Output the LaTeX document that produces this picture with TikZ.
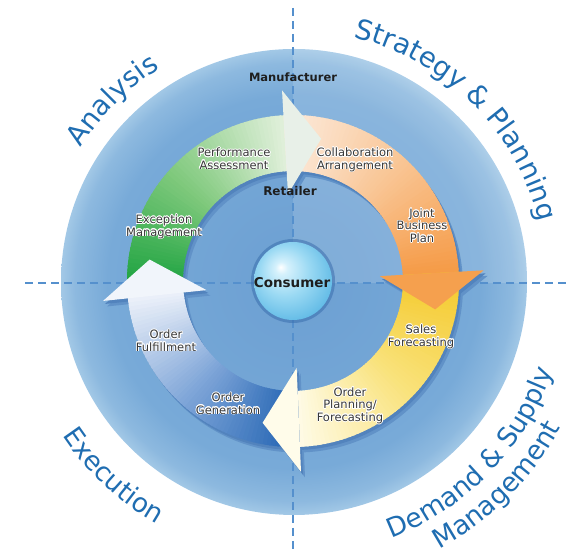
\documentclass[tikz,border=0pt]{standalone}
\usepackage{fontspec}
\setmainfont{DejaVu Sans}
\newfontfamily\dvs{DejaVu Sans}
\usepackage{contour}
\contourlength{0.7pt}
\usetikzlibrary{decorations.text}

\definecolor{qblue}{HTML}{1F6DB1}
\definecolor{dashblue}{HTML}{5590CD}
\definecolor{diskA}{HTML}{6C9FD2}
\definecolor{diskB}{HTML}{78AAD8}
\definecolor{diskC}{HTML}{A2C8E6}
\definecolor{shadowA}{HTML}{5283BD}
\definecolor{shadowB}{HTML}{6192C8}
\definecolor{gr1}{HTML}{16A03C}
\definecolor{gr2}{HTML}{7FC97C}
\definecolor{gr3}{HTML}{E3F1DD}
\definecolor{or1}{HTML}{FCEBDD}
\definecolor{or2}{HTML}{F9C594}
\definecolor{or3}{HTML}{F59A45}
\definecolor{ye1}{HTML}{F4C92C}
\definecolor{ye2}{HTML}{F9E27A}
\definecolor{ye3}{HTML}{FFFBE8}
\definecolor{bl1}{HTML}{2263B2}
\definecolor{bl2}{HTML}{7EA5D8}
\definecolor{bl3}{HTML}{EEF2FA}
\definecolor{grH}{HTML}{E8F0E8}
\definecolor{orH}{HTML}{F5A04E}
\definecolor{yeH}{HTML}{FFFCEA}
\definecolor{blH}{HTML}{F1F5FB}
\definecolor{labc}{HTML}{383838}
\definecolor{blabc}{HTML}{1E1E1E}
\definecolor{cyA}{HTML}{D5F1FC}
\definecolor{cyB}{HTML}{9AD9F3}
\definecolor{cyC}{HTML}{62BBE6}
\definecolor{cyEdge}{HTML}{3A6FAE}

\pgfdeclareradialshading{diskshade}{\pgfpoint{0bp}{0bp}}{color(0bp)=(diskA); color(20bp)=(diskB); color(23.5bp)=(diskC!50!diskB); color(25bp)=(diskC); color(50bp)=(diskC)}
\pgfdeclareradialshading{consh}{\pgfpoint{-8bp}{9bp}}{color(0bp)=(white); color(4bp)=(cyA); color(16bp)=(cyB); color(30bp)=(cyC); color(50bp)=(cyC)}

\newcommand\qfontT{\dvs\fontsize{27.5}{27.5}\selectfont}
\newcommand\qfontB{\dvs\fontsize{26.5}{26.5}\selectfont}
\newcommand\hl[1]{\contour{white}{#1}}
\def\Ro{166}
\def\Ri{110}

\newcommand\gradband[5]{%
  \foreach \k in {0,...,59}{%
    \pgfmathsetmacro\aa{#1+(#2-#1)*\k/60}%
    \pgfmathsetmacro\ab{#1+(#2-#1)*(\k+1.5)/60}%
    \ifnum\k<30
      \pgfmathtruncatemacro\pp{\k*100/30}%
      \colorlet{bandc}{#4!\pp!#3}%
    \else
      \pgfmathtruncatemacro\pp{(\k-30)*100/30}%
      \colorlet{bandc}{#5!\pp!#4}%
    \fi
    \fill[bandc] (\aa:\Ri) arc[start angle=\aa,end angle=\ab,radius=\Ri] -- (\ab:\Ro) arc[start angle=\ab,end angle=\aa,radius=\Ro] -- cycle;
  }}
\newcommand\headfill[2]{\fill[#2] (#1:87) -- ({#1-14.5}:145) -- (#1:191) -- cycle;}

\begin{document}
\begin{tikzpicture}[x=1pt,y=1pt,
  lab/.style={font=\dvs\fontsize{11.5}{12.5}\selectfont, text=labc, align=center, inner sep=0pt},
  blab/.style={font=\dvs\bfseries\fontsize{11.5}{12}\selectfont, text=blabc, inner sep=0pt},
  dashln/.style={draw=dashblue, line width=2.2pt, dash pattern=on 8pt off 5pt}]
\useasboundingbox (0,0) rectangle (566,553);
\coordinate (O) at (294,271);
\coordinate (C) at (293,272);
% background disk
\shade[shading=diskshade] (O) circle[radius=233];
\begin{scope}
  \clip (O) circle[radius=233];
  \fill[white, opacity=0.13] (293,270) rectangle ++(250,260);
\end{scope}
% dashed axes
\coordinate (hL) at (25,270);
\coordinate (hR) at (566,270);
\coordinate (vT) at (293,545);
\coordinate (vB) at (293,0);
\draw[dashln] (hL) -- (hR);
\draw[dashln] (vT) -- (vB);
% ring of arrows
\begin{scope}[shift={(C)}]
  \begin{scope}[shift={(4,-5.5)}]
    \fill[shadowB, even odd rule] (0,0) circle[radius=\Ro] (0,0) circle[radius=\Ri];
    \headfill{93.3}{shadowB}\headfill{3.2}{shadowB}\headfill{-87.6}{shadowB}\headfill{186}{shadowB}
  \end{scope}
  \begin{scope}[shift={(2,-3)}]
    \fill[shadowA, even odd rule] (0,0) circle[radius=\Ro] (0,0) circle[radius=\Ri];
    \headfill{93.3}{shadowA}\headfill{3.2}{shadowA}\headfill{-87.6}{shadowA}\headfill{186}{shadowA}
  \end{scope}
  \gradband{186}{93.3}{gr1}{gr2}{gr3}
  \gradband{93.3}{3.2}{or1}{or2}{or3}
  \gradband{3.2}{-87.6}{ye1}{ye2}{ye3}
  \gradband{-87.6}{-174}{bl1}{bl2}{bl3}
  \headfill{93.3}{grH}
  \headfill{3.2}{orH}
  \headfill{-87.6}{yeH}
  \headfill{186}{blH}
\end{scope}
% step labels
\node[lab] (perf) at (234,394) {\hl{Performance}\\\hl{Assessment}};
\node[lab] (collab) at (355,393) {\hl{Collaboration}\\\hl{Arrangement}};
\node[lab] (joint) at (422,327) {\hl{Joint}\\\hl{Business}\\\hl{Plan}};
\node[lab] (except) at (164,326) {\hl{Exception}\\\hl{Management}};
\node[lab] (sales) at (421,216) {\hl{Sales}\\\hl{Forecasting}};
\node[lab] (oplan) at (350,147) {\hl{Order}\\\hl{Planning/}\\\hl{Forecasting}};
\node[lab] (ofulf) at (166,212) {\hl{Order}\\\hl{Fulfillment}};
\node[lab] (ogen) at (228,149) {\hl{Order}\\\hl{Generation}};
\node[blab] (manuf) at (293,476) {Manufacturer};
\node[blab, font=\dvs\bfseries\fontsize{12}{12}\selectfont] (retail) at (290,362) {Retailer};
% consumer
\fill[cyEdge, opacity=0.55] (C) circle[radius=42];
\shade[shading=consh] (C) circle[radius=39];
\node[blab, font=\dvs\bfseries\fontsize{13.5}{13.5}\selectfont] (consumer) at (292,270) {Consumer};
% quadrant titles
\path[decorate, decoration={text along path, text align=center, text color=qblue, text={|\qfontT|Analysis}}]
  (O) ++(175:252) arc[start angle=175, end angle=95, radius=252];
\path[decorate, decoration={text along path, text align=center, text color=qblue, text={|\qfontT|Strategy {\&} Planning}}]
  (O) ++(110:252) arc[start angle=110, end angle=-20, radius=252];
\path[decorate, decoration={text along path, text align=center, text color=qblue, text={|\qfontB|Execution}}]
  (O) ++(180:278) arc[start angle=180, end angle=274, radius=278];
\path[decorate, decoration={text along path, text align=center, text color=qblue, text={|\qfontB|Demand {\&} Supply}}]
  (O) ++(-94:274) arc[start angle=-94, end angle=6, radius=274];
\path[decorate, decoration={text along path, text align=center, text color=qblue, text={|\qfontB|Management}}]
  (O) ++(-95:304) arc[start angle=-95, end angle=5, radius=304];
\end{tikzpicture}
\end{document}
